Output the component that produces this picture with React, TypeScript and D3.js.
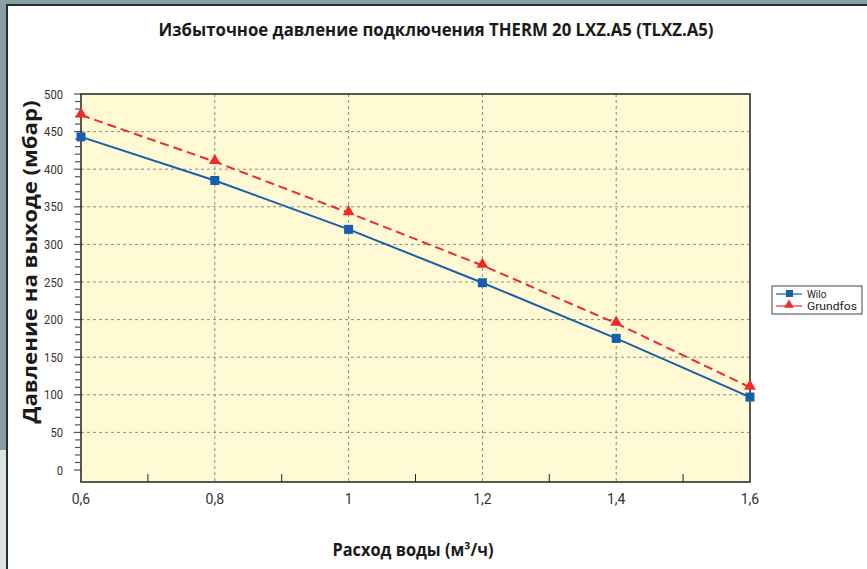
import * as d3 from 'd3';

const flows = [0.6, 0.8, 1.0, 1.2, 1.4, 1.6];
const wilo = [443, 385, 320, 249, 175, 97];
const grundfos = [472, 410, 342, 272, 195, 110];
const yTicks = [0, 50, 100, 150, 200, 250, 300, 350, 400, 450, 500];
const xTicks = [0.6, 0.8, 1.0, 1.2, 1.4, 1.6];
const xMinor = [0.7, 0.9, 1.1, 1.3, 1.5];
const seriesNames = ['Wilo', 'Grundfos'];

const W = 867;
const H = 569;
const plot = { left: 81, right: 750, top: 94, bottom: 482 };
const narrow = "Roboto, 'Noto Sans', sans-serif";
const bold = "'Open Sans', 'Noto Sans', sans-serif";

const x = d3.scaleLinear().domain([0.6, 1.6]).range([plot.left, plot.right]);
const y = d3.scaleLinear().domain([0, 500]).range([470, plot.top]);

const line = d3
    .line<number>()
    .x((_, i) => x(flows[i]))
    .y(d => y(d));

const fmt = (v: number) => (Number.isInteger(v) ? String(v) : String(v).replace('.', ','));

const triangle = d3.symbol(d3.symbolTriangle, 60);

const App = () => {
    const yMinor = d3.range(0, 501, 10).filter(v => v % 50 !== 0);
    return (
        <div style={{ position: 'absolute', left: 0, top: 0 }}>
            <svg width={W} height={H} style={{ display: 'block' }}>
                {/* window frame */}
                <rect x={0} y={0} width={W} height={H} fill="#dde2e5" />
                <rect x={0} y={0} width={W} height={450} fill="#87a0a4" />
                <rect x={6} y={4} width={W} height={H} fill="#2a2e30" />
                <rect x={8} y={6} width={W} height={H} fill="#ffffff" />

                <text
                    x={436}
                    y={36}
                    textAnchor="middle"
                    fontFamily={bold}
                    fontWeight="bold"
                    fontSize={17}
                    fill="#1a1a1a"
                    textLength={555}
                    lengthAdjust="spacingAndGlyphs"
                >
                    Избыточное давление подключения THERM 20 LXZ.A5 (TLXZ.A5)
                </text>

                <rect
                    x={plot.left}
                    y={plot.top}
                    width={plot.right - plot.left}
                    height={plot.bottom - plot.top}
                    fill="#fff9d4"
                />

                {/* grid */}
                {yTicks
                    .filter(v => v > 0 && v < 500)
                    .map(v => (
                        <line
                            key={'gy' + v}
                            x1={plot.left}
                            x2={plot.right}
                            y1={y(v)}
                            y2={y(v)}
                            stroke="#8c8c8c"
                            strokeDasharray="3,3"
                        />
                    ))}
                {xTicks.slice(1, -1).map(v => (
                    <line
                        key={'gx' + v}
                        x1={x(v)}
                        x2={x(v)}
                        y1={plot.top}
                        y2={plot.bottom}
                        stroke="#8c8c8c"
                        strokeDasharray="3,3"
                    />
                ))}

                {/* y ticks */}
                {yTicks.map(v => (
                    <line key={'ty' + v} x1={74} x2={81} y1={y(v)} y2={y(v)} stroke="#555" strokeWidth={1.2} />
                ))}
                {yMinor.map(v => (
                    <line key={'my' + v} x1={75} x2={80} y1={y(v)} y2={y(v)} stroke="#555" strokeWidth={1.2} />
                ))}
                {yTicks.map(v => (
                    <text
                        key={'ly' + v}
                        x={63}
                        y={y(v) + 4.5}
                        textAnchor="end"
                        fontFamily={narrow}
                        fontSize={13}
                        fill="#333"
                        textLength={String(v).length * 6.3}
                        lengthAdjust="spacingAndGlyphs"
                    >
                        {v}
                    </text>
                ))}

                {/* x ticks */}
                {xMinor.map(v => (
                    <line key={'mx' + v} x1={x(v)} x2={x(v)} y1={plot.bottom - 8} y2={plot.bottom} stroke="#222" />
                ))}
                {xTicks.map(v => (
                    <text
                        key={'lx' + v}
                        x={x(v)}
                        y={504}
                        textAnchor="middle"
                        fontFamily={narrow}
                        fontSize={14}
                        fill="#333"
                    >
                        {fmt(v)}
                    </text>
                ))}

                <rect
                    x={plot.left}
                    y={plot.top}
                    width={plot.right - plot.left}
                    height={plot.bottom - plot.top}
                    fill="none"
                    stroke="#222"
                    strokeWidth={1.5}
                />

                {/* series */}
                <path d={line(wilo) ?? ''} fill="none" stroke="#1560ad" strokeWidth={2} />
                <path
                    d={line(grundfos) ?? ''}
                    fill="none"
                    stroke="#ee2a2a"
                    strokeWidth={2}
                    strokeDasharray="9,5"
                />
                {wilo.map((v, i) => (
                    <rect key={'w' + i} x={x(flows[i]) - 4.5} y={y(v) - 4.5} width={9} height={9} fill="#1560ad" />
                ))}
                {grundfos.map((v, i) => (
                    <path
                        key={'g' + i}
                        d={triangle() ?? ''}
                        transform={`translate(${x(flows[i])},${y(v) - 1})`}
                        fill="#ee2a2a"
                    />
                ))}

                {/* axis titles */}
                <text
                    x={413}
                    y={556}
                    textAnchor="middle"
                    fontFamily={bold}
                    fontWeight="bold"
                    fontSize={17}
                    fill="#1a1a1a"
                    textLength={161}
                    lengthAdjust="spacingAndGlyphs"
                >
                    Расход воды (м³/ч)
                </text>
                <text
                    transform="translate(37,262) rotate(-90)"
                    textAnchor="middle"
                    fontFamily={bold}
                    fontWeight="bold"
                    fontSize={20}
                    fill="#1a1a1a"
                    textLength={323}
                    lengthAdjust="spacingAndGlyphs"
                >
                    Давление на выходе (мбар)
                </text>

                {/* legend */}
                <rect x={772} y={286} width={90} height={28} fill="#fff" stroke="#444" strokeWidth={1} />
                <line x1={776} x2={802} y1={294} y2={294} stroke="#1560ad" strokeWidth={1.2} />
                <rect x={786} y={290} width={7} height={7} fill="#1560ad" />
                <text x={807} y={297.5} fontFamily={narrow} fontSize={10} fill="#222">
                    {seriesNames[0]}
                </text>
                <line x1={776} x2={802} y1={306} y2={306} stroke="#ee2a2a" strokeWidth={1.2} />
                <path d={d3.symbol(d3.symbolTriangle, 40)() ?? ''} transform="translate(789,305)" fill="#ee2a2a" />
                <text
                    x={807}
                    y={309.5}
                    fontFamily={narrow}
                    fontSize={10}
                    fill="#222"
                    textLength={50}
                    lengthAdjust="spacingAndGlyphs"
                >
                    {seriesNames[1]}
                </text>
            </svg>
        </div>
    );
};

export default App;
